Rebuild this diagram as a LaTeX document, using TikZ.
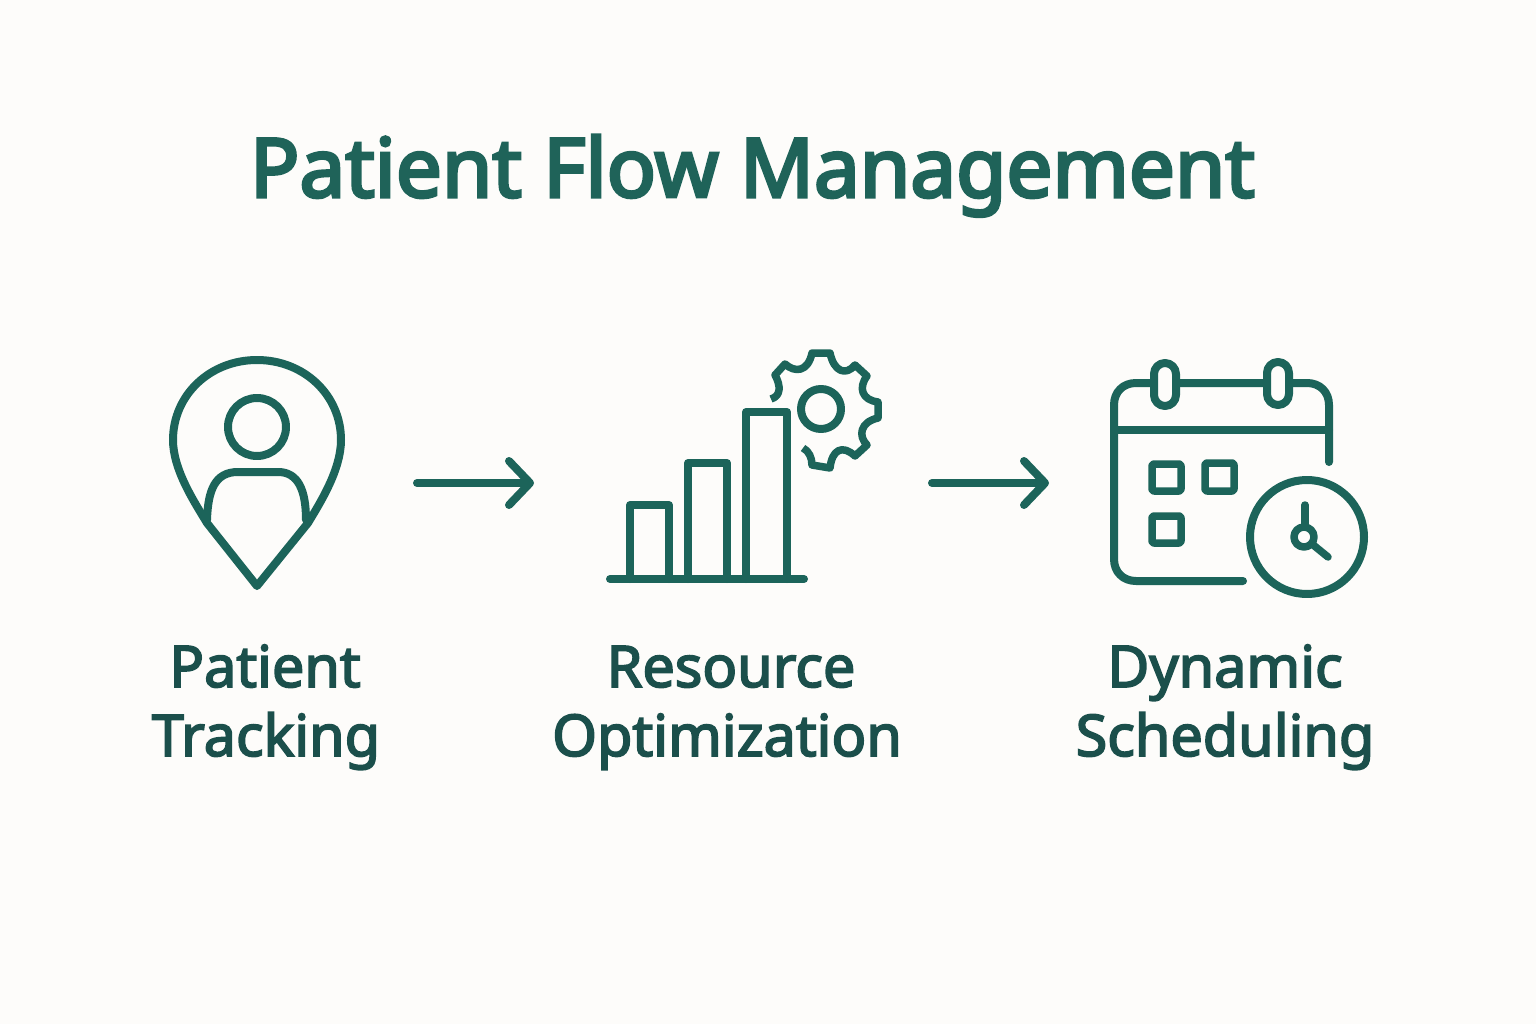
\documentclass[tikz,border=0pt]{standalone}
\usepackage{fontspec}
\newfontfamily\titlefont{Noto Sans}[FakeBold=3.8]
\newfontfamily\labelfont{Noto Sans}[FakeBold=3]
\usetikzlibrary{arrows.meta}
\definecolor{bgc}{HTML}{FDFCFA}
\definecolor{ink}{HTML}{1C645A}
\definecolor{titlec}{HTML}{1F6359}
\definecolor{labelc}{HTML}{1B4F4B}
\tikzset{
  icon/.style={draw=ink,line width=8pt,line join=round,line cap=round},
  thin icon/.style={icon,line width=7.5pt},
  iconbox/.style={inner sep=0pt,outer sep=0pt,minimum height=240pt},
  flow/.style={draw=ink,line width=8pt,line cap=round,-{Straight Barb[length=21pt,width=44pt,round,line width=8pt]}},
  titletext/.style={text=titlec,anchor=base,inner sep=0pt,font=\titlefont\fontsize{81.7}{82}\selectfont},
  labeltext/.style={text=labelc,anchor=base,inner sep=0pt,font=\labelfont\fontsize{57.5}{58}\selectfont}
}
\begin{document}
\begin{tikzpicture}[x=1pt,y=-1pt]
\path[use as bounding box,fill=bgc] (0,0) rectangle (1536,1024);
\node[titletext] (title) at (752.5,197) {Patient Flow Management};
% anchors for the connectors
\node[iconbox,minimum width=174pt] (pin) at (257,483) {};
\node[iconbox,minimum width=270pt] (chart) at (745,483) {};
\node[iconbox,minimum width=258pt] (cal) at (1239,483) {};
% pin icon
\draw[icon] (257,586) -- (207,523) .. controls (195,503) and (173,470) .. (173,440)
  .. controls (173,395) and (210,360) .. (257,360)
  .. controls (304,360) and (341,395) .. (341,440)
  .. controls (341,470) and (320,503) .. (308,523) -- cycle;
\draw[icon] (257,427) circle[radius=29];
\draw[icon] (207,520) .. controls (208,490) and (215,472) .. (238,472) -- (278,472)
  .. controls (298,472) and (306,490) .. (306,520);
% chart icon
\draw[icon] (610,579) -- (804,579);
\draw[icon] (630,579) -- (630,505) -- (669,505) -- (669,579);
\draw[icon] (688,579) -- (688,463) -- (727,463) -- (727,579);
\draw[icon] (746,579) -- (746,412) -- (787,412) -- (787,579);
\draw[icon] (821,409) circle[radius=20];
\draw[icon,line width=7.5pt,line cap=butt] (771,399) .. controls (781,396) and (781,386) .. (775,375)
  -- (785,364) .. controls (795,373) and (808,372) .. (812,353) -- (830,353)
  .. controls (834,372) and (846,376) .. (855,365) -- (867,376)
  .. controls (858,388) and (862,400) .. (878,402) -- (878,418)
  .. controls (860,422) and (858,436) .. (867,445) -- (855,456)
  .. controls (842,444) and (832,450) .. (830,468) -- (812,465)
  .. controls (812,458) and (809,451) .. (803,448);
% calendar icon
\draw[icon] (1329,462) -- (1329,405) .. controls (1329,392) and (1320,383) .. (1307,383)
  -- (1136,383) .. controls (1123,383) and (1114,392) .. (1114,405)
  -- (1114,559) .. controls (1114,572) and (1123,581) .. (1136,581) -- (1243,581);
\draw[icon] (1114,430) -- (1329,430);
\draw[icon,fill=bgc,rounded corners=11pt] (1154,363) rectangle (1176,406);
\draw[icon,fill=bgc,rounded corners=11pt] (1267,362) rectangle (1289,405);
\draw[thin icon,rounded corners=2pt] (1152,464) rectangle (1181,491);
\draw[thin icon,rounded corners=2pt] (1205,463) rectangle (1234,491);
\draw[thin icon,rounded corners=2pt] (1152,516) rectangle (1181,543);
\draw[icon] (1307,537) circle[radius=57];
\draw[thin icon] (1304,537) circle[radius=10];
\draw[thin icon] (1305,527) -- (1305,505);
\draw[thin icon] (1312,544) -- (1328,557);
% connectors
\draw[flow,shorten <=73pt,shorten >=76pt] (pin.east) -- (chart.west);
\draw[flow,shorten <=52pt,shorten >=61pt] (chart.east) -- (cal.west);
% labels
\node[labeltext] (l1a) at (265,687) {Patient};
\node[labeltext] (l1b) at (266,756) {Tracking};
\node[labeltext] (l2a) at (731,687) {Resource};
\node[labeltext] (l2b) at (727,756) {Optimization};
\node[labeltext] (l3a) at (1225,687) {Dynamic};
\node[labeltext] (l3b) at (1225,756) {Scheduling};
\end{tikzpicture}
\end{document}
